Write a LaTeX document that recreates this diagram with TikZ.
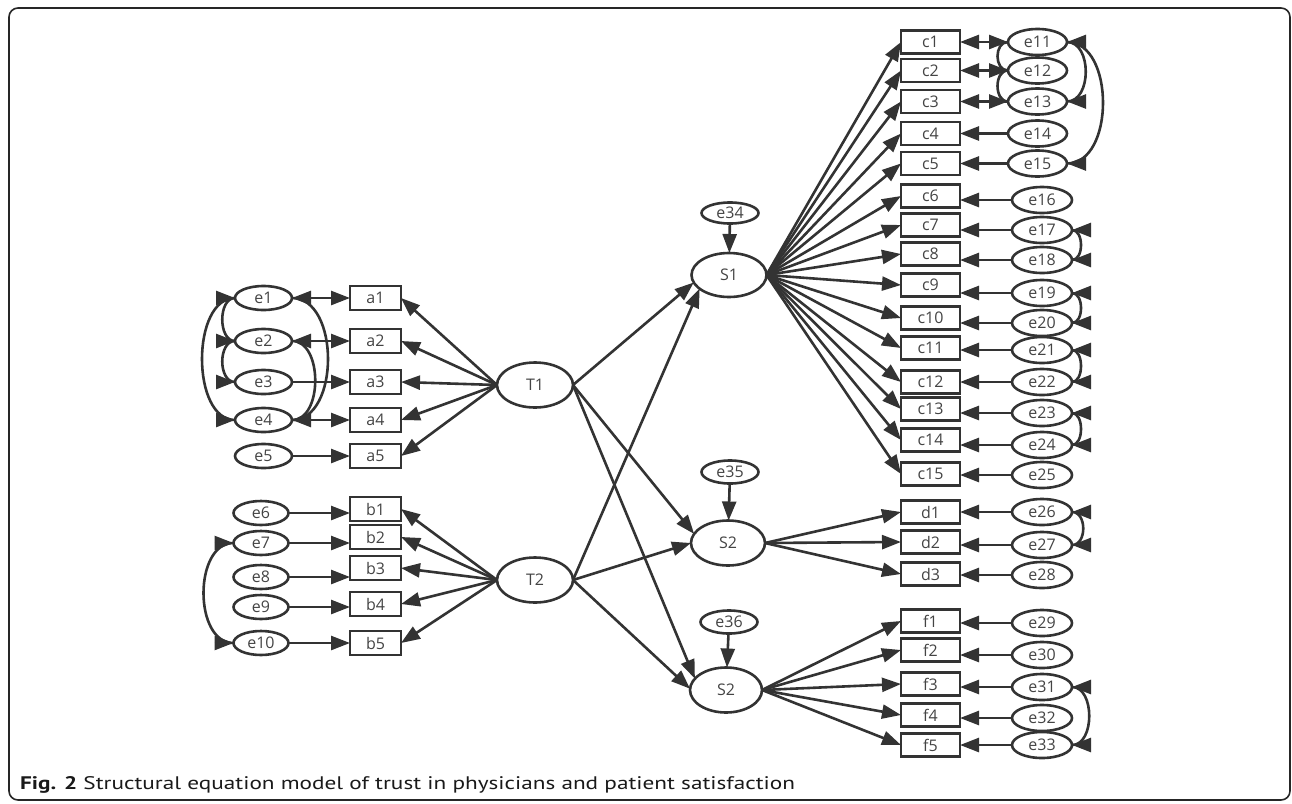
\documentclass[tikz,border=0pt]{standalone}
\usepackage{fontspec}
\setmainfont{Open Sans}
\newfontfamily\capfont{PT Sans}
\usetikzlibrary{shapes.geometric,arrows.meta}
\definecolor{ink}{HTML}{333333}
\definecolor{txt}{HTML}{444444}
\begin{document}
\begin{tikzpicture}[x=1pt,y=-1pt,
  >={Triangle[length=19pt,width=14pt]},
  every node/.style={inner sep=0pt,outer sep=0pt,text=txt,font=\fontsize{16}{16}\selectfont},
  obs/.style={draw=ink,line width=2.6pt,rectangle,minimum width=51pt,minimum height=24pt},
  obsc/.style={obs,minimum width=59pt,minimum height=23pt},
  err/.style={draw=ink,line width=2.6pt,ellipse,minimum width=57pt,minimum height=24pt},
  errc/.style={err,minimum width=60pt,minimum height=26pt},
  lat/.style={draw=ink,line width=2.6pt,ellipse,minimum width=76pt,minimum height=45pt},
  arr/.style={draw=ink,line width=2.6pt,->},
  arc/.style={draw=ink,line width=2.6pt},
  frame/.style={draw=black!85,line width=1.6pt,rounded corners=9pt}
]
\useasboundingbox (0,0) rectangle (1292,803);
\draw[frame] (9,8) rectangle (1290,800);

% ---------- T1 block ----------
\foreach \i/\y in {1/298,2/341,3/382,4/420,5/456}{
  \node[obs] (a\i) at (375.5,\y) {a\i};
  \node[err] (e\i) at (263.5,\y) {e\i};
}
\node[lat] (T1) at (535,385) {T1};
\foreach \i in {1,...,5}{
  \draw[arr] (e\i.east) -- (a\i.west);
  \draw[arr] (T1.west) -- (a\i.east);
}
% covariances: arc + heads
\draw[arc] (e1.west) .. controls +(-44,0) and +(-44,0) .. (e4.west);
\draw[arc] (e1.west) .. controls +(-17,0) and +(-17,0) .. (e2.west);
\draw[arc] (e2.west) .. controls +(-17,0) and +(-17,0) .. (e3.west);
\draw[arc] (e1.east) .. controls +(48,0) and +(48,0) .. (e4.east);
\draw[arc] (e2.east) .. controls +(31,0) and +(31,0) .. (e4.east);
\foreach \n in {1,2,3,4}{\draw[arr] ([xshift=-19pt]e\n.west) -- (e\n.west);}
\foreach \n in {1,2,4}{\draw[arr] ([xshift=19pt]e\n.east) -- (e\n.east);}

% ---------- T2 block ----------
\foreach \i/\y in {1/509,2/537,3/568,4/604,5/643}{
  \node[obs] (b\i) at (375.5,\y) {b\i};
}
\foreach \i/\y in {6/513,7/543,8/577,9/607,10/643}{
  \node[err,minimum width=55pt] (e\i) at (261,\y) {e\i};
}
\node[lat] (T2) at (535,580) {T2};
\foreach \e/\b in {6/1,7/2,8/3,9/4,10/5}{
  \draw[arr] (e\e.east) -- (b\b.west |- e\e.east);
  \draw[arr] (T2.west) -- (b\b.east);
}
\draw[arc] (e7.west) .. controls +(-40,0) and +(-40,0) .. (e10.west);
\foreach \n in {7,10}{\draw[arr] ([xshift=-19pt]e\n.west) -- (e\n.west);}

% ---------- endogenous latents ----------
\node[lat,minimum width=75pt,minimum height=44pt] (S1) at (729,275) {S1};
\node[err,minimum height=21pt] (e34) at (730,213) {e34};
\node[lat,minimum width=74pt] (S2a) at (728,543) {S2};
\node[err,minimum height=23pt] (e35) at (730,472) {e35};
\node[lat,minimum width=72pt] (S2b) at (726,690) {S2};
\node[err,minimum height=23pt] (e36) at (729,622) {e36};
\draw[arr] (e34) -- (S1);
\draw[arr] (e35) -- (S2a);
\draw[arr] (e36) -- (S2b);

\draw[arr] (T1.east) -- (S1.192);
\draw[arr] (T2.east) -- (S1.205);
\draw[arr] (T1.east) -- (S2a.165);
\draw[arr] (T2.east) -- (S2a.west);
\draw[arr] (T1.east) -- (S2b.160);
\draw[arr] (T2.east) -- (S2b.178);

% ---------- c block ----------
\foreach \i/\y [count=\k from 11] in {1/42,2/70.5,3/101.5,4/133.5,5/163.5}{
  \node[obsc] (c\i) at (930.5,\y) {c\i};
  \node[err,minimum width=59pt,minimum height=26pt] (e\k) at (1037.5,\y) {e\k};
}
\foreach \i/\y/\ey [count=\k from 16] in {6/196/200,7/225/230,8/254/260,9/285/293,10/318/323,11/348/350,12/382/382,13/409/413,14/440/445,15/474/475}{
  \node[obsc] (c\i) at (930.5,\y) {c\i};
  \node[errc] (e\k) at (1042,\ey) {e\k};
}
\foreach \i [evaluate=\i as \k using int(\i+10)] in {1,...,15}{
  \draw[arr] (S1.east) -- (c\i.west);
  \draw[arr] (e\k.west) -- (c\i.east |- e\k.west);
}
\draw[arc] (e11.west) .. controls +(-14,0) and +(-14,0) .. (e12.west);
\draw[arc] (e12.west) .. controls +(-14,0) and +(-14,0) .. (e13.west);
\draw[arc] (e11.east) .. controls +(25,0) and +(25,0) .. (e13.east);
\draw[arc] (e11.east) .. controls +(48,0) and +(48,0) .. (e15.east);
\foreach \n in {11,12,13}{\draw[arr] ([xshift=-19pt]e\n.west) -- (e\n.west);}
\foreach \n in {11,13,15}{\draw[arr] ([xshift=19pt]e\n.east) -- (e\n.east);}
\foreach \p/\q in {17/18,19/20,21/22,23/24}{
  \draw[arc] (e\p.east) .. controls +(12,0) and +(12,0) .. (e\q.east);
  \draw[arr] ([xshift=19pt]e\p.east) -- (e\p.east);
  \draw[arr] ([xshift=19pt]e\q.east) -- (e\q.east);
}

% ---------- d block ----------
\foreach \i/\y/\ey [count=\k from 26] in {1/512/512,2/542/545,3/574/575}{
  \node[obsc] (d\i) at (930.5,\y) {d\i};
  \node[errc] (e\k) at (1042,\ey) {e\k};
  \draw[arr] (S2a.east) -- (d\i.west);
  \draw[arr] (e\k.west) -- (d\i.east |- e\k.west);
}
\draw[arc] (e26.east) .. controls +(15,0) and +(15,0) .. (e27.east);
\foreach \n in {26,27}{\draw[arr] ([xshift=19pt]e\n.east) -- (e\n.east);}

% ---------- f block ----------
\foreach \i/\y/\ey [count=\k from 29] in {1/621/623,2/650/655,3/684/687,4/715/718,5/745/745}{
  \node[obsc] (f\i) at (930.5,\y) {f\i};
  \node[errc] (e\k) at (1042,\ey) {e\k};
  \draw[arr] (S2b.east) -- (f\i.west);
  \draw[arr] (e\k.west) -- (f\i.east |- e\k.west);
}
\draw[arc] (e31.east) .. controls +(23,0) and +(23,0) .. (e33.east);
\foreach \n in {31,33}{\draw[arr] ([xshift=19pt]e\n.east) -- (e\n.east);}

% ---------- caption ----------
\node[anchor=base west,text=black!90] (cap) at (20,789)
  {\resizebox{775pt}{13pt}{\capfont\textbf{Fig. 2} Structural equation model of trust in physicians and patient satisfaction}};
\end{tikzpicture}
\end{document}
